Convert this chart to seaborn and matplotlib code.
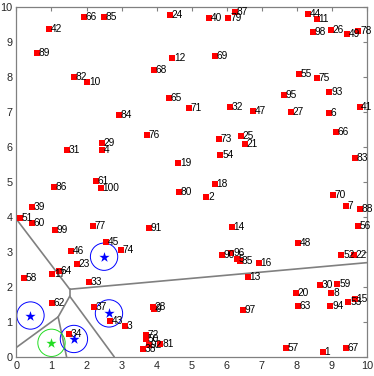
import matplotlib
matplotlib.use('Agg')
import matplotlib.pyplot as plt
from matplotlib.patches import Circle
import seaborn as sns
import pandas as pd

# labelled sample points
pt_x = [8.74, 5.42, 3.10, 2.43, 6.28, 8.92, 9.39, 8.99, 3.93, 2.02,
        8.57, 4.44, 6.60, 6.15, 9.66, 6.91, 1.02, 5.66, 4.62, 7.98,
        6.52, 9.62, 1.72, 4.37, 6.40, 8.97, 7.83, 3.90, 2.44, 8.67,
        1.44, 6.10, 2.06, 1.50, 6.38, 1.07, 2.21, 3.60, 0.43, 5.49,
        9.79, 0.93, 2.66, 8.33, 2.55, 1.57, 6.75, 8.03, 9.42, 3.70,
        0.10, 9.27, 9.47, 5.82, 8.06, 9.75, 7.68, 0.21, 9.16, 0.43,
        2.26, 1.02, 8.03, 1.22, 4.35, 1.93, 9.41, 3.93, 5.66, 9.03,
        4.91, 3.69, 5.77, 2.98, 8.57, 3.73, 2.19, 9.76, 6.05, 4.64,
        4.11, 1.64, 9.66, 2.92, 2.50, 9.12, 6.24, 9.81, 0.58, 5.87,
        3.77, 3.78, 8.93, 8.96, 7.63, 6.13, 6.46, 8.46, 1.10, 2.40]
pt_y = [0.14, 4.57, 0.87, 5.91, 2.80, 6.97, 4.30, 1.83, 1.37, 7.84,
        9.66, 8.55, 2.29, 3.71, 1.66, 2.69, 2.36, 4.95, 5.53, 1.83,
        6.08, 2.91, 2.64, 9.76, 6.31, 9.34, 6.99, 1.43, 6.10, 2.04,
        5.91, 7.13, 2.13, 0.65, 2.73, 4.85, 1.42, 0.21, 4.28, 9.68,
        7.13, 9.37, 1.03, 9.79, 3.28, 3.02, 7.02, 3.24, 9.23, 0.52,
        3.98, 2.91, 1.58, 5.77, 8.09, 3.73, 0.26, 2.25, 2.07, 3.81,
        5.03, 1.53, 1.45, 2.46, 7.40, 9.71, 0.26, 8.20, 8.58, 4.63,
        7.11, 0.62, 6.21, 3.05, 7.97, 6.33, 3.73, 9.31, 9.68, 4.71,
        0.36, 8.00, 5.68, 6.91, 9.70, 6.41, 9.85, 4.21, 8.69, 2.91,
        3.67, 0.33, 7.57, 1.45, 7.48, 2.98, 1.35, 9.29, 3.62, 4.81]
pt_lab = ['1', '2', '3', '4', '5', '6', '7', '8', '9', '10',
          '11', '12', '13', '14', '15', '16', '17', '18', '19', '20',
          '21', '22', '23', '24', '25', '26', '27', '28', '29', '30',
          '31', '32', '33', '34', '35', '86', '37', '38', '39', '40',
          '41', '42', '43', '44', '45', '46', '47', '48', '49', '50',
          '51', '52', '53', '54', '55', '56', '57', '58', '59', '60',
          '61', '62', '63', '64', '65', '66', '67', '68', '69', '70',
          '71', '72', '73', '74', '75', '76', '77', '78', '79', '80',
          '81', '82', '83', '84', '85', '66', '87', '88', '89', '90',
          '91', '92', '93', '94', '95', '96', '97', '98', '99', '100']

# chosen centres (blue) and the extra one (green)
blue_x = [0.40, 1.64, 2.64, 2.50]
blue_y = [1.18, 0.51, 1.24, 2.86]
green_x = [1.00]
green_y = [0.40]
radius = 0.39

# cell borders (segments between the centres)
edge_x0 = [0.00, 1.52, 1.52, 1.52, 1.19, 1.19, 1.52]
edge_y0 = [3.93, 1.93, 1.93, 1.73, 1.14, 1.14, 1.73]
edge_x1 = [1.52, 10.0, 1.52, 1.19, 0.00, 1.43, 2.79]
edge_y1 = [1.93, 2.69, 1.73, 1.14, 0.27, 0.00, 0.00]

df = pd.DataFrame({'x': pt_x, 'y': pt_y, 'label': pt_lab})

sns.set_style('white')
plt.rcParams['font.family'] = ['Liberation Sans', 'DejaVu Sans']

fig = plt.figure(figsize=(3.74, 3.76), dpi=100)
ax = fig.add_axes([0.044, 0.051, 0.937, 0.931])

for i in range(len(edge_x0)):
    ax.plot([edge_x0[i], edge_x1[i]], [edge_y0[i], edge_y1[i]],
            color='#808080', lw=1.2, zorder=1)

sns.scatterplot(data=df, x='x', y='y', marker='s', color='red',
                s=18, linewidth=0, ax=ax, zorder=3)
for _, r in df.iterrows():
    ax.text(r['x'] + 0.05, r['y'], r['label'], fontsize=7.3,
            va='center', ha='left', color='black', zorder=4)

sns.scatterplot(x=blue_x, y=blue_y, marker='*', color='blue', s=60,
                linewidth=0, ax=ax, zorder=5)
sns.scatterplot(x=green_x, y=green_y, marker='*', color='#22dd22', s=60,
                linewidth=0, ax=ax, zorder=5)
for cx, cy in zip(blue_x, blue_y):
    ax.add_patch(Circle((cx, cy), radius, fill=False, ec='blue', lw=0.7, zorder=2))
for cx, cy in zip(green_x, green_y):
    ax.add_patch(Circle((cx, cy), radius, fill=False, ec='#22dd22', lw=0.7, zorder=2))

ax.set_xlim(0, 10)
ax.set_ylim(0, 10)
ax.set_xticks(range(0, 11))
ax.set_yticks(range(0, 11))
ax.set_xlabel('')
ax.set_ylabel('')
ax.tick_params(direction='in', length=3, width=0.8, color='#808080',
               labelsize=7.8, top=True, right=True, pad=3)
for s in ax.spines.values():
    s.set_color('#808080')
    s.set_linewidth(0.9)

fig.savefig('out.png', dpi=100)
